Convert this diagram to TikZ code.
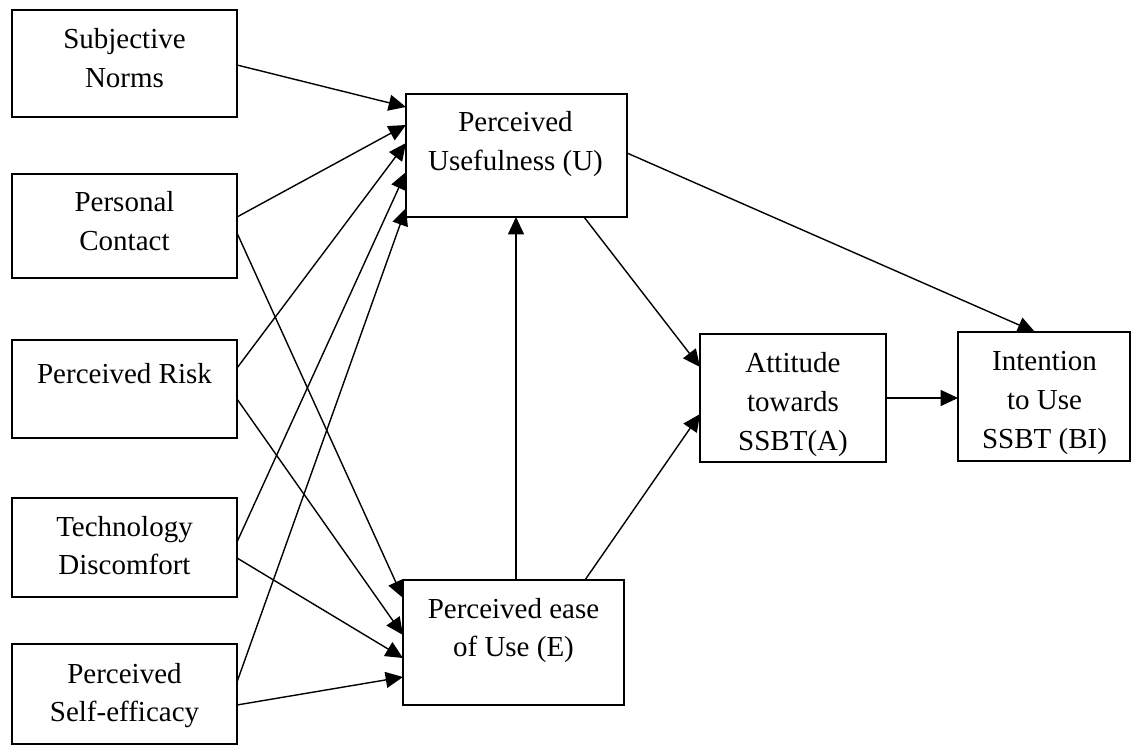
\documentclass[tikz,border=0pt]{standalone}
\usepackage{fontspec}
\setmainfont{Liberation Serif}
\usetikzlibrary{arrows.meta}
\newcommand\boxtext[1]{\begin{tabular}[t]{@{}c@{}}#1\end{tabular}}

\begin{document}
\begin{tikzpicture}[x=0.75pt, y=-0.75pt,
  box/.style={draw, line width=1.5pt, inner sep=0pt, outer sep=0pt},
  label text/.style={anchor=base, inner sep=0pt,
    font=\fontsize{21.75pt}{28.9pt}\selectfont},
  link/.style={line width=1.05pt, -{Triangle[length=13pt, width=12pt]}}]

\useasboundingbox (0,0) rectangle (1132,745);

% exogenous factors (left column)
\node[box, minimum width=225*0.75pt, minimum height=107*0.75pt] (sn)  at (124.5,63.5) {};
\node[box, minimum width=225*0.75pt, minimum height=104*0.75pt] (pc)  at (124.5,226) {};
\node[box, minimum width=225*0.75pt, minimum height=98*0.75pt]  (pr)  at (124.5,389) {};
\node[box, minimum width=225*0.75pt, minimum height=99*0.75pt]  (td)  at (124.5,547.5) {};
\node[box, minimum width=225*0.75pt, minimum height=100*0.75pt] (pse) at (124.5,694) {};

% TAM constructs
\node[box, minimum width=221*0.75pt, minimum height=123*0.75pt] (pu)  at (516.5,155.5) {};
\node[box, minimum width=221*0.75pt, minimum height=125*0.75pt] (pe)  at (513.5,642.5) {};
\node[box, minimum width=186*0.75pt, minimum height=128*0.75pt] (att) at (793,398) {};
\node[box, minimum width=172*0.75pt, minimum height=129*0.75pt] (bi)  at (1044,396.5) {};

% box captions
\node[label text] (sn-t)  at (124.5,49)  {\boxtext{Subjective\\Norms}};
\node[label text] (pc-t)  at (124.5,212) {\boxtext{Personal\\Contact}};
\node[label text] (pr-t)  at (124.5,383) {\boxtext{Perceived Risk}};
\node[label text] (td-t)  at (124.5,536) {\boxtext{Technology\\Discomfort}};
\node[label text] (pse-t) at (124.5,683) {\boxtext{Perceived\\Self-efficacy}};
\node[label text] (pu-t)  at (515.5,132) {\boxtext{Perceived\\Usefulness (U)}};
\node[label text] (pe-t)  at (513.5,618) {\boxtext{Perceived ease\\of Use (E)}};
\node[label text] (att-t) at (793,373)   {\boxtext{Attitude\\towards\\SSBT(A)}};
\node[label text] (bi-t)  at (1044.5,371) {\boxtext{Intention\\to Use\\SSBT (BI)}};

% paths into perceived usefulness
\draw[link] (sn.east |- 0,65)  -- (pu.west |- 0,107);
\draw[link] (pc.east |- 0,217) -- (pu.west |- 0,125);
\draw[link] (pr.east |- 0,368) -- (pu.west |- 0,143);
\draw[link] (td.east |- 0,542) -- (pu.west |- 0,172);
\draw[link] (pse.east |- 0,682) -- (pu.west |- 0,208);

% paths into perceived ease of use
\draw[link] (pc.east |- 0,233) -- (pe.west |- 0,598);
\draw[link] (pr.east |- 0,399) -- (pe.west |- 0,635);
\draw[link] (td.east |- 0,558) -- (pe.west |- 0,658);
\draw[link] (pse.east |- 0,705) -- (pe.west |- 0,677);

% core TAM paths
\draw[link] (pe.north -| 516,0) -- (pu.south -| 516,0);
\draw[link] (pu.south -| 584,0) -- (att.west |- 0,367);
\draw[link] (pe.north -| 585,0) -- (att.west |- 0,414);
\draw[link] (att.east |- 0,398) -- (bi.west |- 0,398);
\draw[link] (pu.east |- 0,153) -- (bi.north -| 1035,0);

\end{tikzpicture}
\end{document}
